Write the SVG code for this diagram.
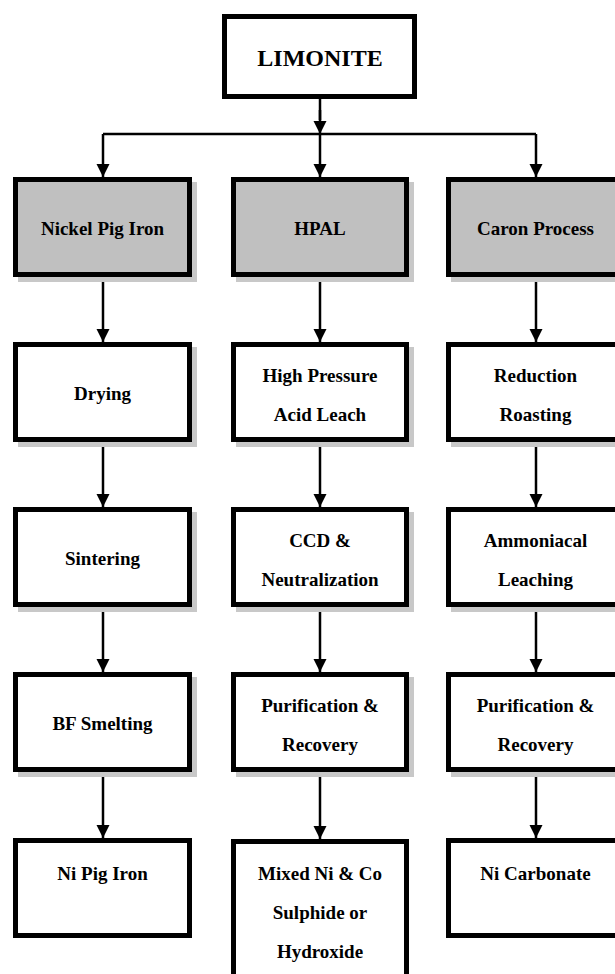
<svg xmlns="http://www.w3.org/2000/svg" width="615" height="974" viewBox="0 0 615 974">
<style>
.box{fill:#ffffff;stroke:#000;stroke-width:5}
.grey{fill:#c0c0c0}
.sh{fill:#c8c8c8}
.t{font-family:"Liberation Serif","Times New Roman",serif;font-weight:bold;font-size:19px;text-anchor:middle;fill:#000}
.big{font-size:24px}
.c{stroke:#000;stroke-width:2.5;fill:none}
.ca{stroke:#000;stroke-width:2.5;fill:none;marker-end:url(#ah)}
</style>
<defs>
<marker id="ah" markerUnits="userSpaceOnUse" markerWidth="14" markerHeight="14" viewBox="0 0 14 14" refX="13" refY="6.5" orient="auto">
<path d="M0,0 L13,6.5 L0,13 z" fill="#000"/>
</marker>
</defs>
<rect width="615" height="974" fill="#ffffff"/>
<g id="connectors">
<line class="c" x1="320" y1="99" x2="320" y2="120"/>
<line class="ca" x1="320" y1="110" x2="320" y2="134"/>
<line class="c" x1="103" y1="134" x2="536" y2="134"/>
<line class="ca" x1="103" y1="134" x2="103" y2="177"/>
<line class="ca" x1="320" y1="134" x2="320" y2="177"/>
<line class="ca" x1="536" y1="134" x2="536" y2="177"/>
<line class="ca" x1="103" y1="277" x2="103" y2="342"/>
<line class="ca" x1="320" y1="277" x2="320" y2="342"/>
<line class="ca" x1="536" y1="277" x2="536" y2="342"/>
<line class="ca" x1="103" y1="442" x2="103" y2="507"/>
<line class="ca" x1="320" y1="442" x2="320" y2="507"/>
<line class="ca" x1="536" y1="442" x2="536" y2="507"/>
<line class="ca" x1="103" y1="607" x2="103" y2="672"/>
<line class="ca" x1="320" y1="607" x2="320" y2="672"/>
<line class="ca" x1="536" y1="607" x2="536" y2="672"/>
<line class="ca" x1="103" y1="772" x2="103" y2="838"/>
<line class="ca" x1="320" y1="772" x2="320" y2="839"/>
<line class="ca" x1="536" y1="772" x2="536" y2="838"/>
</g>
<g id="limonite">
<rect class="box" x="224.5" y="16.5" width="190" height="80"/>
<text class="t big" x="320" y="66">LIMONITE</text>
</g>
<g id="npi">
<rect class="sh" x="18" y="182" width="179" height="100"/>
<rect class="box grey" x="15.5" y="179.5" width="174" height="95"/>
<text class="t" x="102.5" y="235">Nickel Pig Iron</text>
</g>
<g id="hpal">
<rect class="sh" x="236" y="182" width="178" height="100"/>
<rect class="box grey" x="233.5" y="179.5" width="173" height="95"/>
<text class="t" x="320" y="235">HPAL</text>
</g>
<g id="caron">
<rect class="sh" x="451" y="182" width="179" height="100"/>
<rect class="box grey" x="448.5" y="179.5" width="174" height="95"/>
<text class="t" x="535.5" y="235">Caron Process</text>
</g>
<g id="drying">
<rect class="sh" x="18" y="347" width="179" height="100"/>
<rect class="box" x="15.5" y="344.5" width="174" height="95"/>
<text class="t" x="102.5" y="400">Drying</text>
</g>
<g id="hpal-leach">
<rect class="sh" x="236" y="347" width="178" height="100"/>
<rect class="box" x="233.5" y="344.5" width="173" height="95"/>
<text class="t" x="320" y="382">High Pressure</text>
<text class="t" x="320" y="421">Acid Leach</text>
</g>
<g id="reduction">
<rect class="sh" x="451" y="347" width="179" height="100"/>
<rect class="box" x="448.5" y="344.5" width="174" height="95"/>
<text class="t" x="535.5" y="382">Reduction</text>
<text class="t" x="535.5" y="421">Roasting</text>
</g>
<g id="sintering">
<rect class="sh" x="18" y="512" width="179" height="100"/>
<rect class="box" x="15.5" y="509.5" width="174" height="95"/>
<text class="t" x="102.5" y="565">Sintering</text>
</g>
<g id="ccd">
<rect class="sh" x="236" y="512" width="178" height="100"/>
<rect class="box" x="233.5" y="509.5" width="173" height="95"/>
<text class="t" x="320" y="547">CCD &amp;</text>
<text class="t" x="320" y="586">Neutralization</text>
</g>
<g id="ammoniacal">
<rect class="sh" x="451" y="512" width="179" height="100"/>
<rect class="box" x="448.5" y="509.5" width="174" height="95"/>
<text class="t" x="535.5" y="547">Ammoniacal</text>
<text class="t" x="535.5" y="586">Leaching</text>
</g>
<g id="bf">
<rect class="sh" x="18" y="677" width="179" height="100"/>
<rect class="box" x="15.5" y="674.5" width="174" height="95"/>
<text class="t" x="102.5" y="730">BF Smelting</text>
</g>
<g id="purif-hpal">
<rect class="sh" x="236" y="677" width="178" height="100"/>
<rect class="box" x="233.5" y="674.5" width="173" height="95"/>
<text class="t" x="320" y="712">Purification &amp;</text>
<text class="t" x="320" y="751">Recovery</text>
</g>
<g id="purif-caron">
<rect class="sh" x="451" y="677" width="179" height="100"/>
<rect class="box" x="448.5" y="674.5" width="174" height="95"/>
<text class="t" x="535.5" y="712">Purification &amp;</text>
<text class="t" x="535.5" y="751">Recovery</text>
</g>
<g id="nipigiron">
<rect class="box" x="15.5" y="840.5" width="174" height="95"/>
<text class="t" x="102.5" y="880">Ni Pig Iron</text>
</g>
<g id="mixed">
<rect class="box" x="233.5" y="841.5" width="173" height="200"/>
<text class="t" x="320" y="880">Mixed Ni &amp; Co</text>
<text class="t" x="320" y="919">Sulphide or</text>
<text class="t" x="320" y="958">Hydroxide</text>
</g>
<g id="nicarbonate">
<rect class="box" x="448.5" y="840.5" width="174" height="95"/>
<text class="t" x="535.5" y="880">Ni Carbonate</text>
</g>
</svg>
